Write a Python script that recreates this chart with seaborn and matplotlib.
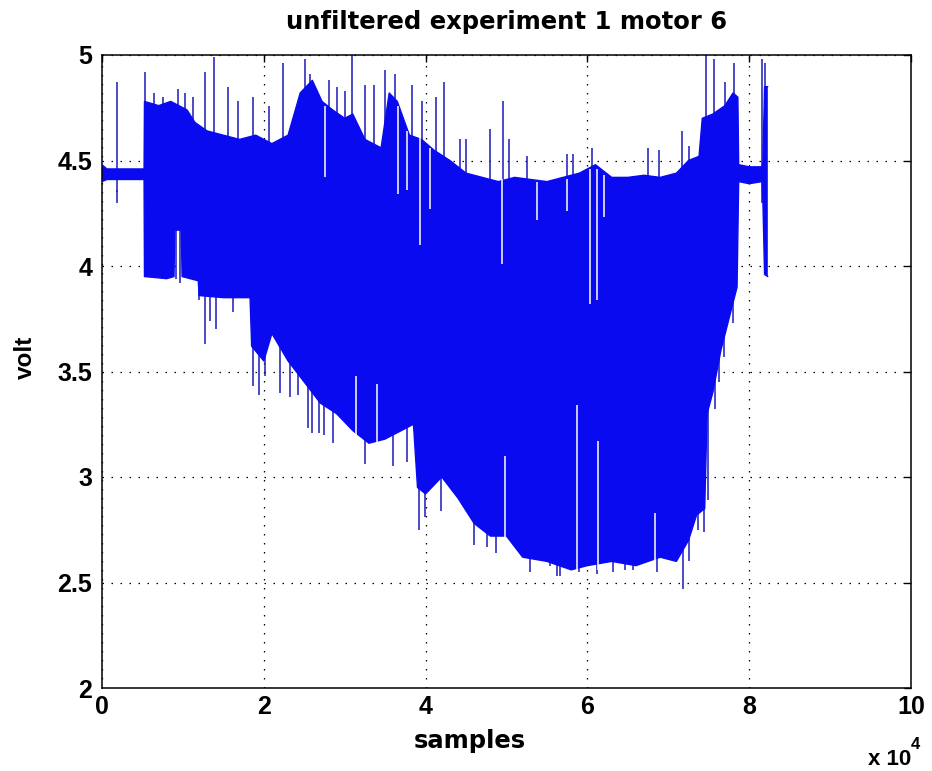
import numpy as np
import pandas as pd
import matplotlib
matplotlib.use("Agg")
import matplotlib.pyplot as plt
from matplotlib.ticker import FuncFormatter
import seaborn as sns

# ---------------- data ----------------
title = "unfiltered experiment 1 motor 6"
x_label = "samples"
y_label = "volt"

# upper envelope of the dense signal (samples, volt)
up_x = [0, 300, 600, 2000, 5200, 5250, 7000, 8500, 10500, 11500, 13000, 15000, 17000,
        19000, 21000, 23000, 24500, 26000, 27200, 28500, 30000, 31000, 32500, 34500,
        35500, 36500, 38000, 39500, 41000, 43000, 45000, 47000, 49000, 51000, 53000,
        55000, 57000, 59000, 61000, 63000, 65000, 67000, 69000, 71000, 72500, 73800,
        74200, 75500, 77000, 78000, 78600, 78700, 80000, 81600, 81700, 81900, 82300]
up_y = [4.48, 4.47, 4.46, 4.46, 4.46, 4.78, 4.76, 4.78, 4.74, 4.68, 4.64, 4.62, 4.60,
        4.62, 4.58, 4.62, 4.82, 4.88, 4.78, 4.74, 4.70, 4.72, 4.60, 4.56,
        4.82, 4.78, 4.62, 4.60, 4.55, 4.50, 4.44, 4.42, 4.40, 4.42, 4.41,
        4.40, 4.42, 4.44, 4.48, 4.42, 4.42, 4.43, 4.42, 4.44, 4.50, 4.52,
        4.70, 4.72, 4.76, 4.82, 4.80, 4.48, 4.47, 4.47, 4.50, 4.85, 4.85]

# lower envelope of the dense signal
lo_x = [0, 600, 5200, 5250, 8000, 8900, 9000, 9800, 9900, 11900, 12000, 15000, 18300,
        18500, 20000, 21000, 23000, 25000, 27000, 29000, 31000, 33000, 35000, 37000,
        38500, 39000, 40000, 42000, 44000, 46000, 48000, 50000, 52000, 55000, 58000,
        60000, 63000, 66000, 69000, 71000, 72500, 73500, 74500, 74800, 75500, 76500,
        77500, 78500, 78700, 80000, 81600, 81700, 81900, 82300]
lo_y = [4.40, 4.41, 4.41, 3.95, 3.94, 3.95, 4.17, 4.17, 3.95, 3.93, 3.86, 3.85, 3.85,
        3.62, 3.55, 3.68, 3.55, 3.45, 3.35, 3.30, 3.22, 3.16, 3.18, 3.22,
        3.25, 2.95, 2.92, 3.00, 2.90, 2.78, 2.72, 2.72, 2.62, 2.60, 2.56,
        2.58, 2.60, 2.58, 2.62, 2.60, 2.70, 2.82, 2.85, 3.30, 3.40, 3.60,
        3.75, 3.90, 4.40, 4.39, 4.40, 4.30, 3.96, 3.95]

# isolated upward spikes (sample, peak volt)
spike_up_x = [1850, 5300, 6400, 7600, 9400, 10200, 11200, 12700, 13800, 15600, 16800,
              18700, 20600, 22400, 25100, 25700, 28000, 29000, 30000, 30900, 32500,
              33600, 35000, 36200, 38300, 39500, 41300, 42300, 44200, 45000, 48000,
              49600, 50300, 52500, 57500, 58200, 60600, 67500, 68900, 71700, 72600,
              74700, 75600, 77000, 78100, 81600, 82000]
spike_up_y = [4.87, 4.92, 4.82, 4.80, 4.84, 4.82, 4.80, 4.92, 4.99, 4.85, 4.78,
              4.80, 4.76, 4.96, 4.98, 4.91, 4.88, 4.85, 4.83, 5.00, 4.86,
              4.86, 4.93, 4.91, 4.86, 4.78, 4.80, 4.87, 4.60, 4.60, 4.65,
              4.78, 4.60, 4.52, 4.53, 4.53, 4.56, 4.56, 4.55, 4.64, 4.57,
              5.00, 4.98, 4.87, 4.96, 4.98, 4.96]

# isolated downward spikes (sample, lowest volt)
spike_dn_x = [1850, 9200, 9700, 12000, 12700, 13300, 14100, 16200, 18700, 19400, 20200,
              22000, 23200, 24200, 25500, 25900, 26800, 27400, 28600, 29200, 30800,
              32500, 36000, 37700, 39200, 39900, 41900, 43600, 46000, 47600, 48700,
              50800, 52900, 55400, 56200, 56600, 59000, 61200, 63200, 64700, 65600,
              68600, 71800, 72600, 73700, 74400, 74900, 75800, 76300, 76900, 78000]
spike_dn_y = [4.35, 3.94, 3.92, 3.84, 3.63, 3.74, 3.70, 3.78, 3.43, 3.39, 3.48,
              3.40, 3.38, 3.39, 3.23, 3.21, 3.21, 3.20, 3.16, 3.30, 3.38,
              3.06, 3.05, 3.07, 2.75, 2.81, 2.84, 2.93, 2.68, 2.67, 2.64,
              2.71, 2.55, 2.58, 2.53, 2.53, 2.55, 2.54, 2.55, 2.56, 2.56,
              2.55, 2.47, 2.60, 2.75, 2.74, 2.89, 3.32, 3.45, 3.57, 3.73]

# short gaps inside the dense band (sample, from volt, to volt)
gap_x = [27600, 36600, 37700, 39300, 40500, 49400, 53800, 57500, 60300, 61200, 62000,
         31400, 34000, 49800, 58700, 61300, 68400]
gap_lo = [4.42, 4.34, 4.36, 4.10, 4.27, 4.01, 4.22, 4.26, 3.82, 3.84, 4.23,
          3.20, 3.14, 2.70, 2.54, 2.56, 2.56]
gap_hi = [4.76, 4.76, 4.64, 4.62, 4.56, 4.41, 4.40, 4.41, 4.46, 4.46, 4.43,
          3.48, 3.44, 3.10, 3.34, 3.17, 2.83]

x_ticks = [0, 20000, 40000, 60000, 80000, 100000]
y_ticks = [2, 2.5, 3, 3.5, 4, 4.5, 5]

# ---------------- drawing ----------------
sns.set_style("white")
plt.rcParams["font.family"] = ["Liberation Sans", "DejaVu Sans"]
for k in ["text.color", "axes.labelcolor", "xtick.color", "ytick.color"]:
    plt.rcParams[k] = "black"

fig = plt.figure(figsize=(9.32, 7.71), dpi=100)
ax = fig.add_axes([102 / 932, 83 / 771, 809 / 932, 633 / 771])

blue = "#0a0af0"
spike_col = "#1a1ab8"

env_up = pd.DataFrame({"x": up_x, "y": up_y})
env_lo = pd.DataFrame({"x": lo_x, "y": lo_y})

# spikes sit under the band; only the parts sticking out are seen
ax.vlines(spike_up_x, 4.3, spike_up_y, color=spike_col, lw=1.1, zorder=1.9)
ax.vlines(spike_dn_x, spike_dn_y, 4.36, color=spike_col, lw=1.1, zorder=1.9)

ax.fill(np.concatenate([env_up["x"].to_numpy(), env_lo["x"].to_numpy()[::-1]]),
        np.concatenate([env_up["y"].to_numpy(), env_lo["y"].to_numpy()[::-1]]),
        color=blue, lw=0, zorder=2)
sns.lineplot(data=env_up, x="x", y="y", ax=ax, color=blue, lw=1.0,
             sort=False, estimator=None, zorder=3)
sns.lineplot(data=env_lo, x="x", y="y", ax=ax, color=blue, lw=1.0,
             sort=False, estimator=None, zorder=3)

ax.vlines(gap_x, gap_lo, gap_hi, color="white", lw=1.1, zorder=4)

ax.set_xlim(0, 100000)
ax.set_ylim(2, 5)
ax.set_xticks(x_ticks)
ax.set_yticks(y_ticks)
ax.xaxis.set_major_formatter(FuncFormatter(lambda v, p: f"{v / 1e4:g}"))
ax.yaxis.set_major_formatter(FuncFormatter(lambda v, p: f"{v:g}"))

ax.set_axisbelow(True)
ax.grid(True, color="black", linestyle=(0, (1.2, 6)), lw=0.9)
for s in ax.spines.values():
    s.set_visible(True)
    s.set_color("black")
    s.set_linewidth(1.1)

ax.tick_params(direction="in", top=True, right=True, length=5, width=1,
               labelsize=18, pad=7)
for lab in ax.get_xticklabels() + ax.get_yticklabels():
    lab.set_fontweight("bold")
ax.tick_params(axis="x", pad=5)

ax.set_title(title, fontsize=17.5, fontweight="bold", pad=19,
             family=["DejaVu Sans"])
ax.set_xlabel(x_label, fontsize=17.5, fontweight="bold", va="baseline",
              family=["DejaVu Sans"])
ax.xaxis.set_label_coords(0.455, -0.095)
ax.set_ylabel(y_label, fontsize=17.5, fontweight="bold", va="center")
ax.yaxis.set_label_coords(-0.095, 0.523)

ax.text(1.0, -0.121, "x 10", transform=ax.transAxes, ha="right", va="baseline",
        fontsize=16, fontweight="bold")
ax.text(1.0, -0.097, "4", transform=ax.transAxes, ha="left", va="baseline",
        fontsize=12, fontweight="bold")

fig.savefig("out.png", dpi=100, facecolor="white")
